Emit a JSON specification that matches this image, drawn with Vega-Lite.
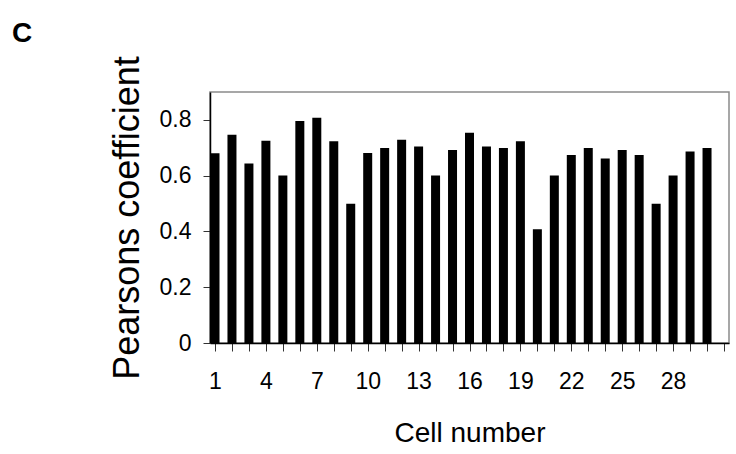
{
  "$schema": "https://vega.github.io/schema/vega-lite/v6.json",
  "autosize": "none",
  "width": 519,
  "height": 251,
  "padding": {"left": 210, "top": 92, "right": 7, "bottom": 111},
  "background": "white",
  "config": {
    "font": "Liberation Sans",
    "view": {"stroke": "#8a8a8a", "strokeWidth": 1.5}
  },
  "title": {
    "text": "C",
    "anchor": "start",
    "frame": "group",
    "orient": "top",
    "baseline": "alphabetic",
    "offset": 17,
    "dx": -198,
    "dy": 31,
    "fontSize": 28,
    "fontWeight": "bold",
    "font": "Liberation Sans",
    "color": "black"
  },
  "data": {
    "values": [
      {"cell": 1, "r": 0.680},
      {"cell": 2, "r": 0.747},
      {"cell": 3, "r": 0.644},
      {"cell": 4, "r": 0.725},
      {"cell": 5, "r": 0.601},
      {"cell": 6, "r": 0.796},
      {"cell": 7, "r": 0.808},
      {"cell": 8, "r": 0.723},
      {"cell": 9, "r": 0.499},
      {"cell": 10, "r": 0.681},
      {"cell": 11, "r": 0.699},
      {"cell": 12, "r": 0.729},
      {"cell": 13, "r": 0.705},
      {"cell": 14, "r": 0.601},
      {"cell": 15, "r": 0.692},
      {"cell": 16, "r": 0.754},
      {"cell": 17, "r": 0.705},
      {"cell": 18, "r": 0.699},
      {"cell": 19, "r": 0.723},
      {"cell": 20, "r": 0.408},
      {"cell": 21, "r": 0.601},
      {"cell": 22, "r": 0.674},
      {"cell": 23, "r": 0.699},
      {"cell": 24, "r": 0.662},
      {"cell": 25, "r": 0.692},
      {"cell": 26, "r": 0.674},
      {"cell": 27, "r": 0.499},
      {"cell": 28, "r": 0.601},
      {"cell": 29, "r": 0.687},
      {"cell": 30, "r": 0.699}
    ]
  },
  "mark": {"type": "bar", "width": 9, "color": "black", "clip": true},
  "encoding": {
    "x": {
      "field": "cell",
      "type": "quantitative",
      "scale": {"domain": [1, 31], "nice": false, "zero": false},
      "axis": {
        "title": "Cell number",
        "titleFontSize": 28,
        "titleFontWeight": "normal",
        "titleColor": "black",
        "titlePadding": 26,
        "values": [1,2,3,4,5,6,7,8,9,10,11,12,13,14,15,16,17,18,19,20,21,22,23,24,25,26,27,28,29,30,31],
        "labelExpr": "((datum.value - 1) % 3 == 0 && datum.value <= 28) ? datum.value : ''",
        "labelFontSize": 23,
        "labelColor": "black",
        "labelPadding": 19,
        "labelOverlap": false,
        "labelFlush": false,
        "tickSize": 8,
        "tickColor": "#333",
        "domainColor": "black",
        "domainWidth": 1.5,
        "grid": false
      }
    },
    "y": {
      "field": "r",
      "type": "quantitative",
      "scale": {"domain": [0, 0.9], "nice": false},
      "axis": {
        "title": "Pearsons coefficient",
        "titleFontSize": 36,
        "titleFontWeight": "normal",
        "titleColor": "black",
        "titlePadding": 13,
        "values": [0, 0.2, 0.4, 0.6, 0.8],
        "format": "~g",
        "labelFontSize": 23,
        "labelColor": "black",
        "labelPadding": 12,
        "tickSize": 7,
        "tickColor": "#333",
        "domainColor": "black",
        "domainWidth": 1.5,
        "grid": false
      }
    }
  }
}
